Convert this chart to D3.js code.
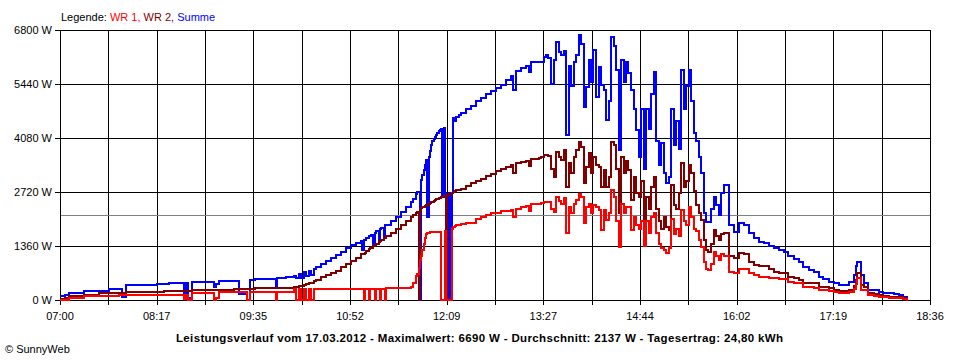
<!DOCTYPE html>
<html><head><meta charset="utf-8">
<script src="https://cdn.jsdelivr.net/npm/d3@7"></script>
<style>
body{margin:0;background:#fff}
svg{display:block}
text{font-family:"Liberation Sans",Arial,sans-serif;font-size:11px;fill:#000}
</style>
</head><body>
<svg id="chart" width="960" height="360"></svg>
<script>
// ---- data ----
const times = [
"07:00","07:03","07:06","07:18","07:30","07:38","07:46","07:49","07:52","08:17","08:22","08:26","08:38","08:40","08:42","08:45",
"09:02","09:04","09:06","09:18","09:22","09:29","09:31","09:35","09:52","09:53","10:00","10:06","10:08","10:10","10:12","10:14",
"10:16","10:18","10:20","10:22",
"10:24","10:28","10:32","10:36","10:40","10:44","10:48","10:52","10:56","11:00","11:01","11:02","11:03","11:04","11:06","11:07",
"11:08","11:10","11:11","11:12","11:14","11:15","11:16","11:18","11:19","11:20","11:24","11:28","11:32","11:36","11:40","11:42","11:44",
"11:45","11:46","11:47","11:48","11:49","11:50","11:51","11:52","11:53","11:54","11:55","11:56","11:57","11:58","11:59","12:00",
"12:01","12:02","12:03","12:04","12:05","12:06","12:07","12:08","12:09","12:10","12:11","12:12","12:13","12:14","12:15","12:16","12:18","12:20",
"12:24","12:28","12:32","12:36","12:40","12:44","12:48","12:52","12:56","13:00","13:02","13:04","13:08","13:12","13:14","13:16","13:20",
"13:22","13:24","13:26","13:28","13:30","13:32","13:34","13:36","13:38","13:40","13:42","13:44","13:46","13:48","13:50","13:52",
"13:54","13:56","13:58","14:00","14:02","14:04","14:06","14:08","14:10","14:12","14:14","14:16","14:18","14:20","14:22","14:24",
"14:26","14:28","14:30","14:32","14:34","14:36","14:38","14:40","14:42","14:44",
"14:46","14:48","14:50","14:52","14:54","14:56","14:58","15:00","15:02","15:04","15:06","15:08","15:10","15:12","15:14","15:16",
"15:18","15:20","15:22","15:24","15:26","15:28","15:30","15:32","15:34","15:36","15:38","15:40","15:42","15:44","15:46","15:48","15:50",
"15:54","15:58","16:02","16:06","16:10","16:14","16:18","16:22","16:26","16:30","16:34","16:38","16:42","16:46","16:50","16:54",
"16:58","17:02","17:06","17:10","17:14","17:18","17:22","17:26","17:30","17:34","17:36","17:37","17:40","17:42","17:46","17:50",
"17:54","17:58","18:02","18:06","18:10","18:14","18:17"
];
const summe = [
90,130,175,235,235,277,277,80,370,400,400,428,100,428,60,453,
330,400,478,478,160,0,512,528,330,550,570,600,560,650,560,700,
600,740,620,780,
840,910,990,1070,1140,1220,1300,1385,1440,1490,1260,1510,1520,1560,1600,1620,
1640,1400,1700,1730,1500,1790,1820,1600,1880,1900,2000,2090,2225,2350,2480,2550,2680,
2730,2730,0,3020,3150,3280,3400,3525,2100,3600,3750,3900,4000,4050,4100,4150,
4200,4250,4280,4300,2600,4320,2650,0,2680,0,2700,0,2700,4575,4500,4600,4650,4700,
4820,4880,5000,5100,5200,5260,5340,5420,5550,5650,5300,5760,5850,5900,5750,5990,6000,
5985,6000,6130,6170,6100,5450,6045,6510,6250,6170,6280,4150,5900,5400,6000,6170,
6670,6460,4870,5370,6045,5500,6300,5120,5880,5410,5290,4530,5000,6630,6400,5790,
3780,6045,5500,6000,5710,5290,4800,4280,3610,4800,
3300,4800,4300,5200,5750,4000,3400,3950,3200,2950,3100,4800,3900,4500,3800,5790,
4800,5400,5790,5000,4200,4000,3600,3200,2200,1970,1970,2300,2600,2400,2150,2700,2900,
1900,1720,1930,1900,1700,1560,1460,1440,1370,1300,1250,1210,1120,1030,950,830,
760,700,580,520,460,430,380,380,450,620,850,965,630,420,250,240,
200,180,170,140,125,70,50
];
const wr2 = [
30,60,92,135,176,176,176,176,200,200,225,225,225,225,225,260,
260,260,260,285,285,285,285,290,290,295,310,330,340,350,360,380,
400,420,440,470,
510,575,640,680,740,820,905,990,1070,1150,1150,1170,1190,1240,1280,1300,
1320,1360,1380,1410,1450,1480,1500,1550,1570,1600,1700,1800,1900,2000,2090,2130,2180,
2225,0,2250,2310,2330,2350,2370,2390,2400,2420,2440,2460,2480,2500,2520,2540,
2550,2570,2580,2600,2610,2620,2630,0,2650,2660,2670,2680,2690,2730,2740,2760,2780,2800,
2880,2940,2990,3050,3120,3180,3240,3310,3350,3400,3200,3450,3480,3500,3380,3550,3560,
3570,3600,3650,3650,3630,3300,3100,3730,3600,3520,3780,2850,3450,3200,3610,3780,
3990,3850,2940,3360,3690,3190,3600,3400,3360,2850,3270,2850,3100,3990,3900,3300,
2180,3610,3190,3500,3270,2520,3100,2700,2600,3000,
1700,2600,2300,2850,3100,2300,2000,1800,2100,1850,1760,2900,2400,2300,2700,3440,
2850,3000,3400,3190,2750,2400,2200,2010,1500,1250,1200,1400,1760,1600,1500,1650,1700,
1100,1050,1180,1150,960,890,860,850,780,700,690,680,590,560,510,440,
430,420,330,320,300,260,235,235,260,350,500,690,380,330,170,160,
130,90,85,85,70,40,25
];
const wr1 = [
0,0,50,92,92,92,135,135,135,135,135,135,30,135,0,176,
0,60,193,193,193,0,200,200,0,200,200,270,0,270,0,270,
0,270,0,270,
270,270,270,270,270,270,270,270,270,270,270,0,270,270,0,270,
270,270,0,270,270,0,270,270,0,295,295,295,295,295,330,420,600,
650,800,1000,1100,1250,1400,1550,1650,1680,1700,1710,1720,1720,1720,1720,1720,
1720,1720,1720,0,0,0,1750,0,0,0,0,0,1780,1850,1870,1890,1900,1910,
1930,1940,2050,2100,2150,2180,2200,2230,2250,2270,2100,2300,2330,2380,2250,2430,2430,
2430,2450,2470,2470,2460,2300,2220,2600,2500,2430,2580,1680,2350,2200,2430,2520,
2680,2600,1930,2350,2430,2180,2400,2350,2270,1760,2270,2020,2200,2770,2600,2000,
1340,2430,2180,2350,2350,1760,2100,1900,1800,2000,
1350,2000,1700,2100,2200,1700,1400,1300,1250,1180,1300,2050,1650,1800,1600,2270,
2000,1900,2350,2100,1800,1750,1500,1340,950,780,760,900,1220,1100,1020,1150,1100,
700,680,780,770,680,630,580,570,560,555,540,520,455,440,430,340,
320,300,250,240,220,200,180,175,190,280,400,545,250,250,125,110,
85,65,55,45,40,20,10
];
const yTicks = [0, 1360, 2720, 4080, 5440, 6800];
const xTickLabels = ["07:00","08:17","09:35","10:52","12:09","13:27","14:44","16:02","17:19","18:36"];
const average = 2137;
const legendLabel = "Legende: ";
const seriesNames = ["WR 1", "WR 2", "Summe"];
const titleText = "Leistungsverlauf vom 17.03.2012 - Maximalwert: 6690 W - Durchschnitt: 2137 W - Tagesertrag: 24,80 kWh";
const copyright = "\u00A9 SunnyWeb";

// ---- drawing ----
const toMin = s => +s.slice(0,2)*60 + +s.slice(3);
const t0 = toMin(xTickLabels[0]), t1 = toMin(xTickLabels[xTickLabels.length-1]);
const svg = d3.select("#chart");
const L = 60, R = 930, T = 30, B = 300;
const x = d3.scaleLinear().domain([t0, t1]).range([L, R]);
const y = d3.scaleLinear().domain([0, 6800]).range([B, T]);
const px = v => Math.round(v) + 0.5;

svg.append("rect").attr("width",960).attr("height",360).attr("fill","#fff");

const grid = svg.append("g").attr("shape-rendering","crispEdges");
grid.selectAll("line.h").data(yTicks).join("line")
  .attr("x1", L-5).attr("x2", R+0.5)
  .attr("y1", d => px(y(d))).attr("y2", d => px(y(d)))
  .attr("stroke","#000").attr("stroke-width",1);
const nV = (xTickLabels.length - 1) * 2;
const vVals = d3.range(nV + 1).map(i => t0 + i * (t1 - t0) / nV);
grid.selectAll("line.v").data(vVals).join("line")
  .attr("x1", d => px(x(d))).attr("x2", d => px(x(d)))
  .attr("y1", T + 0.5).attr("y2", B + 5)
  .attr("stroke","#000").attr("stroke-width",1);
grid.append("line").attr("x1", L+1).attr("x2", R)
  .attr("y1", px(y(average))).attr("y2", px(y(average)))
  .attr("stroke","#808080").attr("stroke-width",1);

svg.selectAll("text.yl").data(yTicks).join("text")
  .attr("x", 52).attr("y", d => y(d) + 4)
  .attr("text-anchor","end").text(d => d + " W");
svg.selectAll("text.xl").data(xTickLabels).join("text")
  .attr("x", (d,i) => x(t0 + i * (t1 - t0) / (xTickLabels.length - 1)))
  .attr("y", 320).attr("text-anchor","middle").text(d => d);

const tm = times.map(toMin);
const colors = ["#ff0000", "#800000", "#0000ff"];
const seriesData = [wr1, wr2, summe];
const line = d3.line().curve(d3.curveStepAfter)
  .x(d => Math.round(x(d[0])) + 1).y(d => Math.round(y(d[1])));
const gS = svg.append("g").attr("shape-rendering","crispEdges");
[2,1,0].forEach(i => {
  gS.append("path").datum(tm.map((t,j) => [t, seriesData[i][j]]))
    .attr("d", line).attr("fill","none")
    .attr("stroke", colors[i]).attr("stroke-width", 2)
    .attr("stroke-linecap","square");
});

const lg = svg.append("text").attr("x", 61).attr("y", 21);
lg.append("tspan").text(legendLabel);
seriesNames.forEach((n,i) => {
  lg.append("tspan").attr("fill", colors[i]).text(n + (i < seriesNames.length-1 ? ", " : ""));
});

svg.append("text").attr("x", 176).attr("y", 342)
  .attr("font-weight","bold").attr("textLength", 607).attr("lengthAdjust","spacing")
  .style("font-size","11.5px").text(titleText);
svg.append("text").attr("x", 5).attr("y", 353).text(copyright);
</script>
</body></html>
